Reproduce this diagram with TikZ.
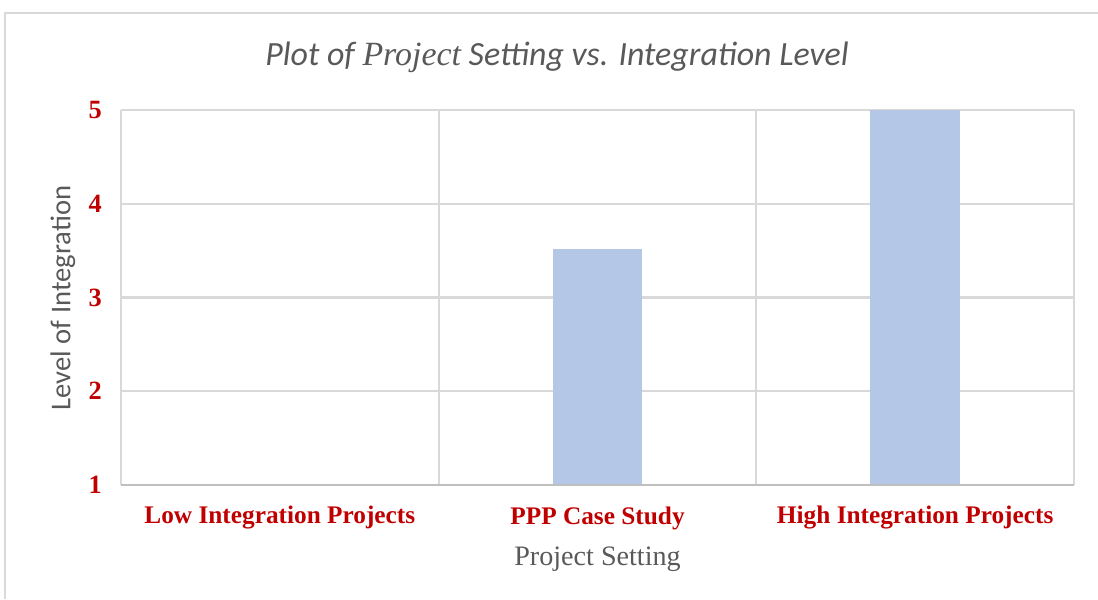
\documentclass[tikz,border=0pt]{standalone}
\usepackage{fontspec}
\setmainfont{Liberation Serif}
\newfontfamily\calibri{Carlito}
\usetikzlibrary{positioning}
\definecolor{gridgray}{HTML}{D9D9D9}
\definecolor{axisgray}{HTML}{BFBFBF}
\definecolor{barblue}{HTML}{B4C7E7}
\definecolor{labelred}{HTML}{C00000}
\definecolor{textgray}{HTML}{595959}

\begin{document}
\begin{tikzpicture}[x=0.02cm,y=-0.02cm,
	ticklabel/.style={font=\fontsize{15}{15}\selectfont\bfseries,text=labelred,anchor=east},
	catlabel/.style={font=\fontsize{14.4}{14.4}\selectfont\bfseries,text=labelred},
	gridline/.style={draw=gridgray,line width=1.2pt},
	bar/.style={fill=barblue}]
	\useasboundingbox (0,0) rectangle (1098,599);
	% frame of the chart area
	\draw[gridgray,line width=1.3pt] (5,599) -- (5,13) -- (1098,13);

	% grid
	\foreach \v in {2,...,5}
		\draw[gridline] (121,{485-(\v-1)*93.75}) -- (1074,{485-(\v-1)*93.75});
	\foreach \c in {0,...,3}
		\draw[gridline] ({121+\c*317.67},110) -- ({121+\c*317.67},485);

	% bars
	\fill[bar] (553,485) rectangle (642,249);
	\fill[bar] (870,485) rectangle (960,110);
	\draw[axisgray,line width=1.3pt] (121,485) -- (1074,485);

	% value axis
	\foreach \v in {1,...,5}
		\node[ticklabel](Y\v) at (108,{485-(\v-1)*93.75}) {\v};
	\node[rotate=90,font=\calibri\fontsize{16.3}{16.3}\selectfont,text=textgray](ytitle) at (63,298) {Level of Integration};

	% categories
	\foreach \name [count=\n] in {Low Integration Projects,PPP Case Study,High Integration Projects}
		\node[catlabel](C\n) at ({121+(\n-0.5)*317.67},518) {\name};
	\node[below=3pt of C2,font=\fontsize{16}{16}\selectfont,text=textgray](xtitle) {Project Setting};

	% title
	\node[text=textgray,font=\fontsize{19.3}{19.3}\selectfont](title) at (557,57)
		{{\calibri\itshape Plot of }{\itshape Project}{\calibri\itshape\ Setting vs. Integration Level}};
\end{tikzpicture}
\end{document}
